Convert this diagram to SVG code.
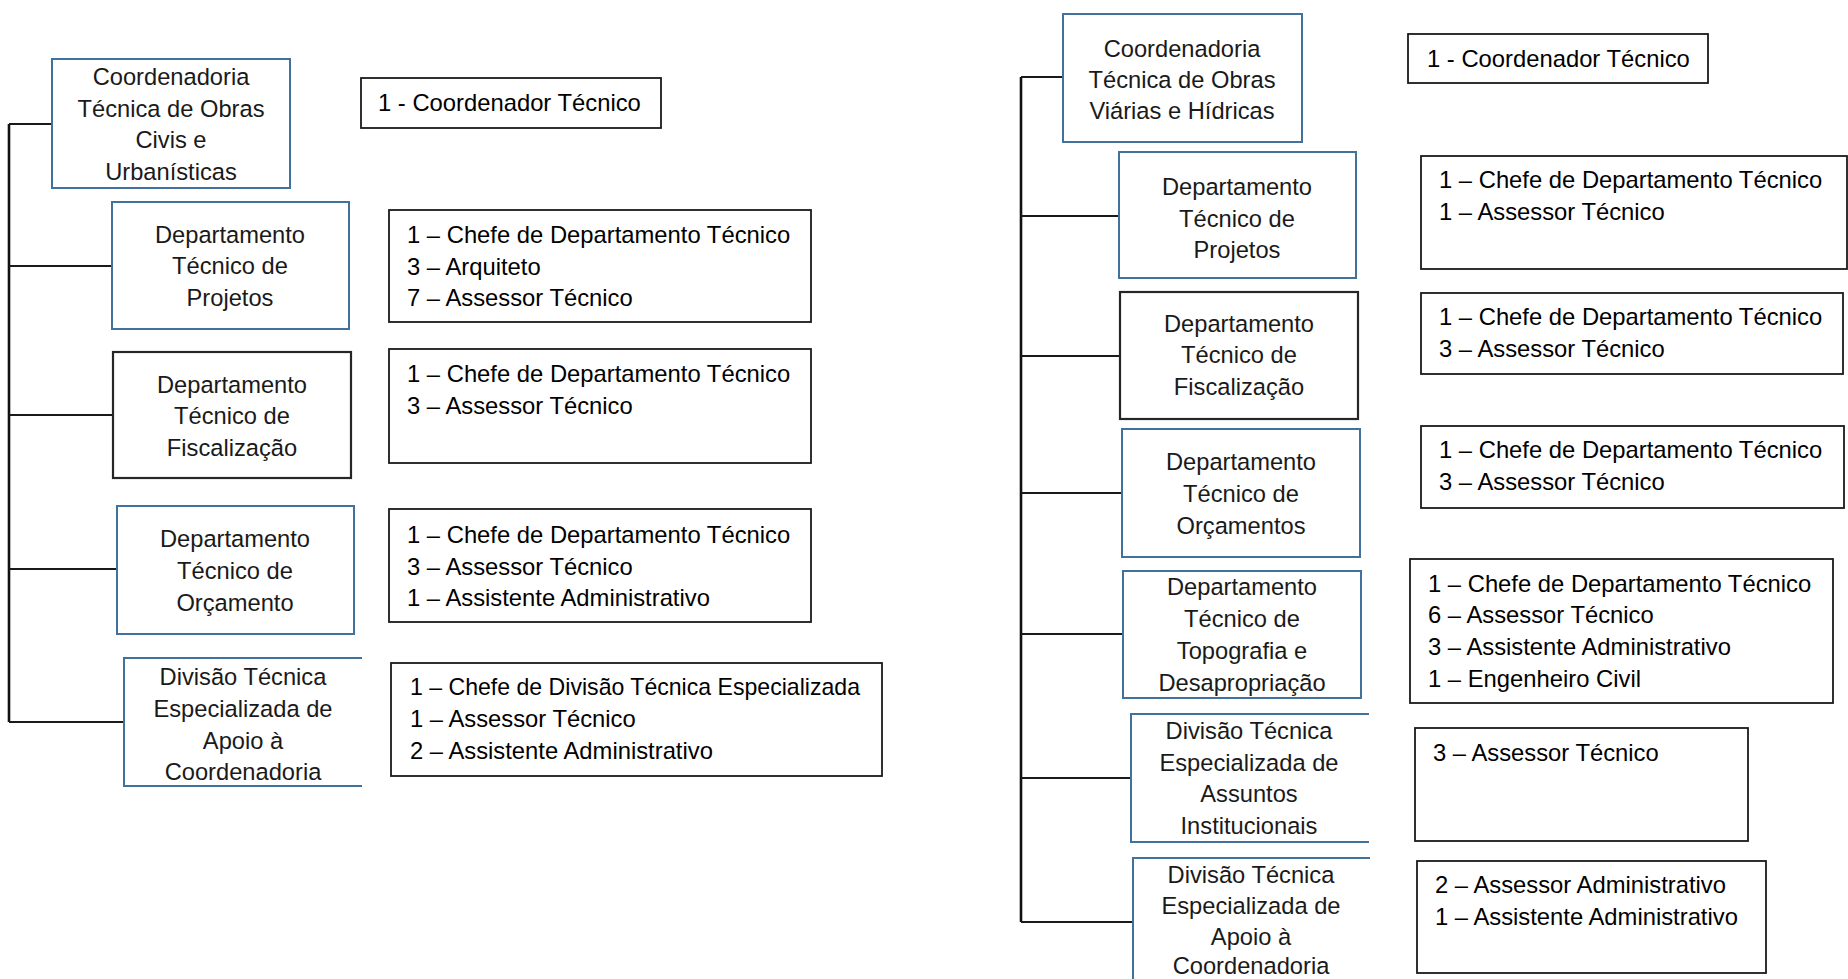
<svg xmlns="http://www.w3.org/2000/svg" width="1848" height="979" viewBox="0 0 1848 979">
<style>
.bg{fill:#ffffff}
.nb{fill:#ffffff;stroke:#41719C;stroke-width:2}
.nk{fill:#ffffff;stroke:#262626;stroke-width:2.2}
.no{fill:none;stroke:#41719C;stroke-width:2}
.sb{fill:#ffffff;stroke:#1a1a1a;stroke-width:1.8}
.nt{font-family:"Liberation Sans",Arial,sans-serif;font-size:23.7px;fill:#1a1a1a;text-anchor:middle}
.st{font-family:"Liberation Sans",Arial,sans-serif;font-size:23.8px;fill:#000000}
.cn{fill:none;stroke:#1a1a1a;stroke-width:2}
.tr{fill:none;stroke:#111111;stroke-width:2.6}
</style>
<rect class="bg" x="0" y="0" width="1848" height="979"/>
<g id="connectors">
<path class="tr" d="M9,124 V722"/>
<path class="cn" d="M9,124 H52 M9,266 H112 M9,415 H113 M9,569 H117 M9,722 H124"/>
<path class="tr" d="M1021,77 V922"/>
<path class="cn" d="M1021,77 H1063 M1021,216 H1119 M1021,356 H1120 M1021,493 H1122 M1021,634 H1123 M1021,778 H1131 M1021,922 H1133"/>
</g>
<g id="coord-civis">
<rect class="nb" x="52" y="59" width="238" height="129"/>
<text class="nt" x="171" y="85">Coordenadoria</text>
<text class="nt" x="171" y="117">Técnica de Obras</text>
<text class="nt" x="171" y="148">Civis e</text>
<text class="nt" x="171" y="180">Urbanísticas</text>
</g>
<g id="coord-civis-staff">
<rect class="sb" x="361" y="78" width="300" height="50"/>
<text class="st" x="378" y="111">1 - Coordenador Técnico</text>
</g>
<g id="dep-projetos-l">
<rect class="nb" x="112" y="202" width="237" height="127"/>
<text class="nt" x="230" y="243">Departamento</text>
<text class="nt" x="230" y="274">Técnico de</text>
<text class="nt" x="230" y="306">Projetos</text>
</g>
<g id="dep-projetos-l-staff">
<rect class="sb" x="389" y="210" width="422" height="112"/>
<text class="st" x="407" y="243">1 – Chefe de Departamento Técnico</text>
<text class="st" x="407" y="275">3 – Arquiteto</text>
<text class="st" x="407" y="306">7 – Assessor Técnico</text>
</g>
<g id="dep-fisc-l">
<rect class="nk" x="113" y="352" width="238" height="126"/>
<text class="nt" x="232" y="393">Departamento</text>
<text class="nt" x="232" y="424">Técnico de</text>
<text class="nt" x="232" y="456">Fiscalização</text>
</g>
<g id="dep-fisc-l-staff">
<rect class="sb" x="389" y="349" width="422" height="114"/>
<text class="st" x="407" y="382">1 – Chefe de Departamento Técnico</text>
<text class="st" x="407" y="414">3 – Assessor Técnico</text>
</g>
<g id="dep-orc-l">
<rect class="nb" x="117" y="506" width="237" height="128"/>
<text class="nt" x="235" y="547">Departamento</text>
<text class="nt" x="235" y="579">Técnico de</text>
<text class="nt" x="235" y="611">Orçamento</text>
</g>
<g id="dep-orc-l-staff">
<rect class="sb" x="389" y="509" width="422" height="113"/>
<text class="st" x="407" y="543">1 – Chefe de Departamento Técnico</text>
<text class="st" x="407" y="575">3 – Assessor Técnico</text>
<text class="st" x="407" y="606">1 – Assistente Administrativo</text>
</g>
<g id="div-apoio-l">
<rect x="124" y="658" width="238" height="128" fill="#ffffff"/>
<path class="no" d="M362,658 H124 V786 H362"/>
<text class="nt" x="243" y="685">Divisão Técnica</text>
<text class="nt" x="243" y="717">Especializada de</text>
<text class="nt" x="243" y="749">Apoio à</text>
<text class="nt" x="243" y="780">Coordenadoria</text>
</g>
<g id="div-apoio-l-staff">
<rect class="sb" x="391" y="663" width="491" height="113"/>
<text class="st" x="410" y="695" textLength="450" lengthAdjust="spacingAndGlyphs">1 – Chefe de Divisão Técnica Especializada</text>
<text class="st" x="410" y="727">1 – Assessor Técnico</text>
<text class="st" x="410" y="759">2 – Assistente Administrativo</text>
</g>
<g id="coord-viarias">
<rect class="nb" x="1063" y="14" width="239" height="128"/>
<text class="nt" x="1182" y="57">Coordenadoria</text>
<text class="nt" x="1182" y="88">Técnica de Obras</text>
<text class="nt" x="1182" y="119">Viárias e Hídricas</text>
</g>
<g id="coord-viarias-staff">
<rect class="sb" x="1408" y="34" width="300" height="49"/>
<text class="st" x="1427" y="67">1 - Coordenador Técnico</text>
</g>
<g id="dep-projetos-r">
<rect class="nb" x="1119" y="152" width="237" height="126"/>
<text class="nt" x="1237" y="195">Departamento</text>
<text class="nt" x="1237" y="227">Técnico de</text>
<text class="nt" x="1237" y="258">Projetos</text>
</g>
<g id="dep-projetos-r-staff">
<rect class="sb" x="1421" y="156" width="426" height="113"/>
<text class="st" x="1439" y="188">1 – Chefe de Departamento Técnico</text>
<text class="st" x="1439" y="220">1 – Assessor Técnico</text>
</g>
<g id="dep-fisc-r">
<rect class="nk" x="1120" y="292" width="238" height="127"/>
<text class="nt" x="1239" y="332">Departamento</text>
<text class="nt" x="1239" y="363">Técnico de</text>
<text class="nt" x="1239" y="395">Fiscalização</text>
</g>
<g id="dep-fisc-r-staff">
<rect class="sb" x="1421" y="293" width="422" height="81"/>
<text class="st" x="1439" y="325">1 – Chefe de Departamento Técnico</text>
<text class="st" x="1439" y="357">3 – Assessor Técnico</text>
</g>
<g id="dep-orc-r">
<rect class="nb" x="1122" y="429" width="238" height="128"/>
<text class="nt" x="1241" y="470">Departamento</text>
<text class="nt" x="1241" y="502">Técnico de</text>
<text class="nt" x="1241" y="534">Orçamentos</text>
</g>
<g id="dep-orc-r-staff">
<rect class="sb" x="1421" y="426" width="423" height="82"/>
<text class="st" x="1439" y="458">1 – Chefe de Departamento Técnico</text>
<text class="st" x="1439" y="490">3 – Assessor Técnico</text>
</g>
<g id="dep-topo-r">
<rect class="nb" x="1123" y="571" width="238" height="127"/>
<text class="nt" x="1242" y="595">Departamento</text>
<text class="nt" x="1242" y="627">Técnico de</text>
<text class="nt" x="1242" y="659">Topografia e</text>
<text class="nt" x="1242" y="691">Desapropriação</text>
</g>
<g id="dep-topo-r-staff">
<rect class="sb" x="1410" y="559" width="423" height="144"/>
<text class="st" x="1428" y="592">1 – Chefe de Departamento Técnico</text>
<text class="st" x="1428" y="623">6 – Assessor Técnico</text>
<text class="st" x="1428" y="655">3 – Assistente Administrativo</text>
<text class="st" x="1428" y="687">1 – Engenheiro Civil</text>
</g>
<g id="div-assuntos-r">
<rect x="1131" y="714" width="238" height="128" fill="#ffffff"/>
<path class="no" d="M1369,714 H1131 V842 H1369"/>
<text class="nt" x="1249" y="739">Divisão Técnica</text>
<text class="nt" x="1249" y="771">Especializada de</text>
<text class="nt" x="1249" y="802">Assuntos</text>
<text class="nt" x="1249" y="834">Institucionais</text>
</g>
<g id="div-assuntos-r-staff">
<rect class="sb" x="1415" y="728" width="333" height="113"/>
<text class="st" x="1433" y="761">3 – Assessor Técnico</text>
</g>
<g id="div-apoio-r">
<rect x="1133" y="858" width="237" height="125" fill="#ffffff"/>
<path class="no" d="M1370,858 H1133 V985"/>
<text class="nt" x="1251" y="883">Divisão Técnica</text>
<text class="nt" x="1251" y="914">Especializada de</text>
<text class="nt" x="1251" y="945">Apoio à</text>
<text class="nt" x="1251" y="974">Coordenadoria</text>
</g>
<g id="div-apoio-r-staff">
<rect class="sb" x="1417" y="861" width="349" height="112"/>
<text class="st" x="1435" y="893">2 – Assessor Administrativo</text>
<text class="st" x="1435" y="925">1 – Assistente Administrativo</text>
</g>
</svg>
